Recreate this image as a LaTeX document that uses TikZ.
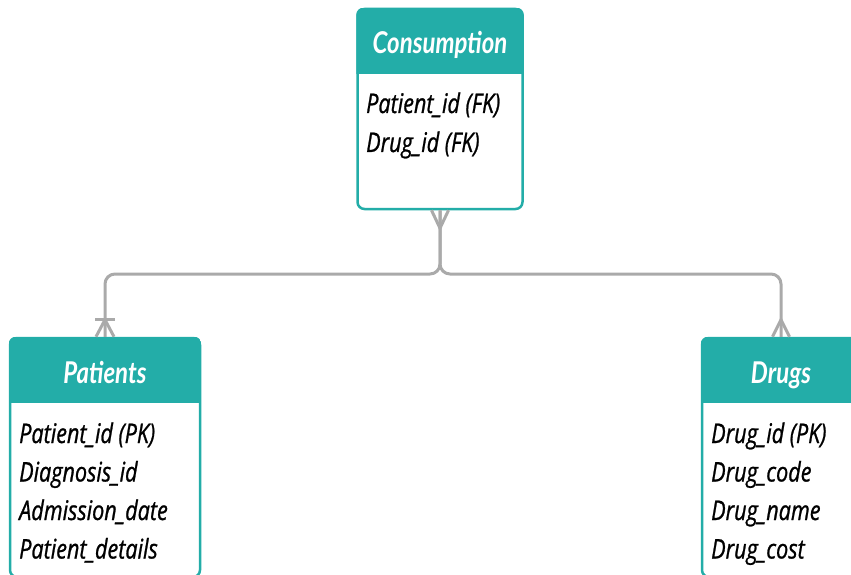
\documentclass[tikz,border=0pt]{standalone}
\usepackage{fontspec}
\usetikzlibrary{calc}
\newfontfamily\hdrfont{Lato}[FakeStretch=0.8]
\newfontfamily\fieldfont{Open Sans}[FakeStretch=0.8,FakeBold=0.9]
\definecolor{erteal}{RGB}{35,173,168}
\definecolor{linkgray}{RGB}{170,170,170}
\begin{document}
\begin{tikzpicture}[x=1pt,y=-1pt,
  entity/.style={draw=erteal, line width=2.5pt, rounded corners=7pt, fill=white,
    inner sep=0pt, minimum width=#1},
  hdrtxt/.style={font=\hdrfont\bfseries\itshape\fontsize{30}{33}\selectfont,
    text=white, inner sep=0pt, anchor=base},
  field/.style={font=\fieldfont\itshape\fontsize{27}{30}\selectfont,
    text=black, inner sep=0pt, anchor=base west},
  link/.style={draw=linkgray, line width=3pt}]
\useasboundingbox (0,0) rectangle (851,575);
\clip (0,0) rectangle (851,575);

% entity boxes
\node[entity=165pt, minimum height=200pt] (cons) at (440,109) {};
\node[entity=190pt, minimum height=239pt] (pat) at (105,457.5) {};
\node[entity=158pt, minimum height=239pt] (drug) at (781,457.5) {};

% teal header bands
\foreach \n in {cons,pat,drug}{
  \begin{scope}
    \clip[rounded corners=7pt] (\n.north west) rectangle (\n.south east);
    \fill[erteal] (\n.north west) rectangle ($(\n.north east)+(0,66.5)$);
  \end{scope}
}

% titles
\node[hdrtxt] (consT) at (440,54) {Consumption};
\node[hdrtxt] (patT) at (105,383) {Patients};
\node[hdrtxt] (drugT) at (781,383) {Drugs};

% attributes
\node[field] (c1) at (366,113) {Patient\_id (FK)};
\node[field] (c2) at (366,152) {Drug\_id (FK)};

\node[field] (p1) at (19,443) {Patient\_id (PK)};
\node[field] (p2) at (19,481.5) {Diagnosis\_id};
\node[field] (p3) at (19,520) {Admission\_date};
\node[field] (p4) at (19,558.5) {Patient\_details};

\node[field] (d1) at (711,443) {Drug\_id (PK)};
\node[field] (d2) at (711,481.5) {Drug\_code};
\node[field] (d3) at (711,520) {Drug\_name};
\node[field] (d4) at (711,558.5) {Drug\_cost};

% relationship lines
\coordinate (hub) at (cons.south |- 0,274);
\draw[link, rounded corners=10pt] (cons.south) -- (hub) -- (hub -| pat.north) -- (pat.north);
\draw[link, rounded corners=10pt] (cons.south) -- (hub) -- (hub -| drug.north) -- (drug.north);

% crow's feet
\draw[link] ($(cons.south)+(-8.5,0)$) -- ($(cons.south)+(0,18)$) -- ($(cons.south)+(8.5,0)$);
\draw[link] ($(pat.north)+(-9,0)$) -- ($(pat.north)+(0,-17)$) -- ($(pat.north)+(9,0)$);
\draw[link] ($(pat.north)+(-10,-17)$) -- ($(pat.north)+(10,-17)$);
\draw[link] ($(drug.north)+(-8.5,0)$) -- ($(drug.north)+(0,-17)$) -- ($(drug.north)+(8.5,0)$);
\end{tikzpicture}
\end{document}
